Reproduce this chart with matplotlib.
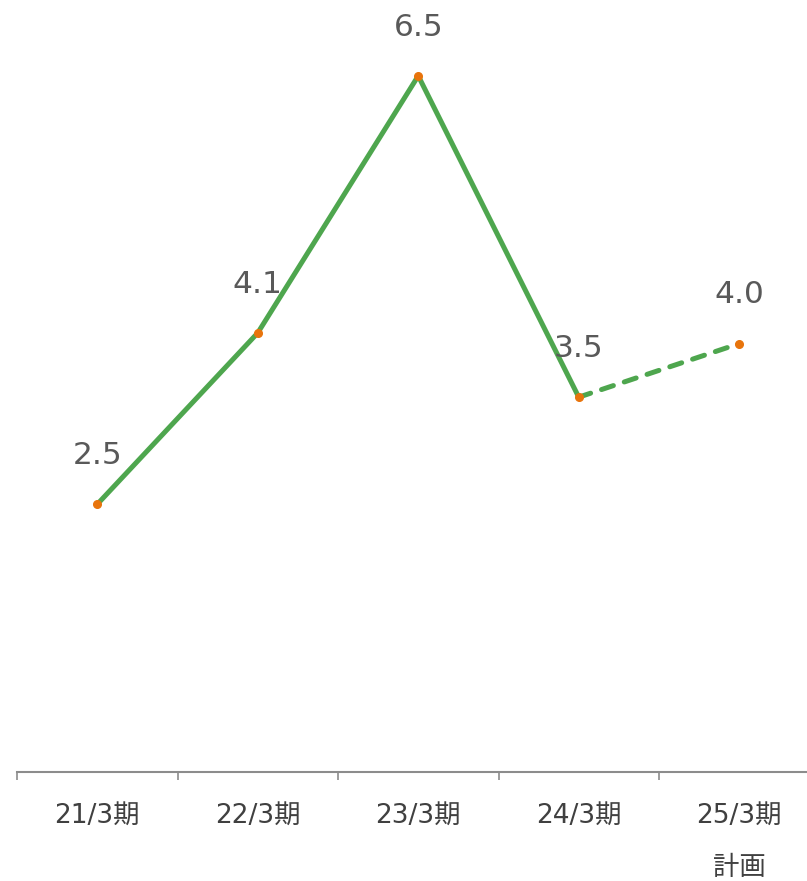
import matplotlib
matplotlib.use('Agg')
import matplotlib.pyplot as plt

plt.rcParams['font.family'] = ['DejaVu Sans', 'Noto Sans CJK JP']

# ── data ──────────────────────────────────────────────────────────────────────
categories = ['21/3期', '22/3期', '23/3期', '24/3期', '25/3期\n計画']
values     = [2.5, 4.1, 6.5, 3.5, 4.0]
n_actual   = 4          # last point is the plan (dashed)

LINE_COLOR   = '#4ea64e'
MARKER_COLOR = '#e8740c'
TEXT_COLOR   = '#595959'
AXIS_COLOR   = '#8c8c8c'
FONTS        = ['DejaVu Sans', 'Noto Sans CJK JP']

fig = plt.figure(figsize=(8.07, 8.81), dpi=100)
W, H = 807, 881
# axes spans beyond the right edge (last category is cut in the source)
ax = fig.add_axes([17 / W, (H - 772) / H, 802.5 / W, 772 / H])

x = list(range(len(values)))
ax.plot(x[:n_actual], values[:n_actual], color=LINE_COLOR, lw=3.6,
        solid_capstyle='round', zorder=2)
ax.plot(x[n_actual - 1:], values[n_actual - 1:], color=LINE_COLOR, lw=3.6,
        linestyle=(0, (2.5, 2.3)), dash_capstyle='round', zorder=2)
ax.plot(x, values, linestyle='none', marker='o', ms=5.5,
        color=MARKER_COLOR, zorder=3)

for xi, v in zip(x, values):
    ax.annotate(f'{v:.1f}', (xi, v), xytext=(0, 35), textcoords='offset points',
                ha='center', va='center', fontsize=22.5, color=TEXT_COLOR,
                family='DejaVu Sans')

ax.set_xlim(-0.5, len(values) - 0.5)
ax.set_ylim(0, 772 / 107.1)

for side in ('top', 'right', 'left'):
    ax.spines[side].set_visible(False)
ax.spines['bottom'].set_color(AXIS_COLOR)
ax.spines['bottom'].set_linewidth(1.5)

ax.set_yticks([])
ax.set_xticks([i - 0.5 for i in range(len(values) + 1)], minor=False)
ax.set_xticklabels([])
ax.tick_params(axis='x', which='major', length=6, width=1.2, color=AXIS_COLOR,
               direction='out')
ax.set_xticks(x, minor=True)
ax.set_xticklabels(categories, minor=True, fontsize=19, color='#404040')
ax.tick_params(axis='x', which='minor', length=0, pad=22)
for lbl in ax.get_xticklabels(minor=True):
    lbl.set_family(FONTS)
    lbl.set_linespacing(2.3)
    lbl.set_verticalalignment('top')

fig.savefig('out.png', dpi=100)
